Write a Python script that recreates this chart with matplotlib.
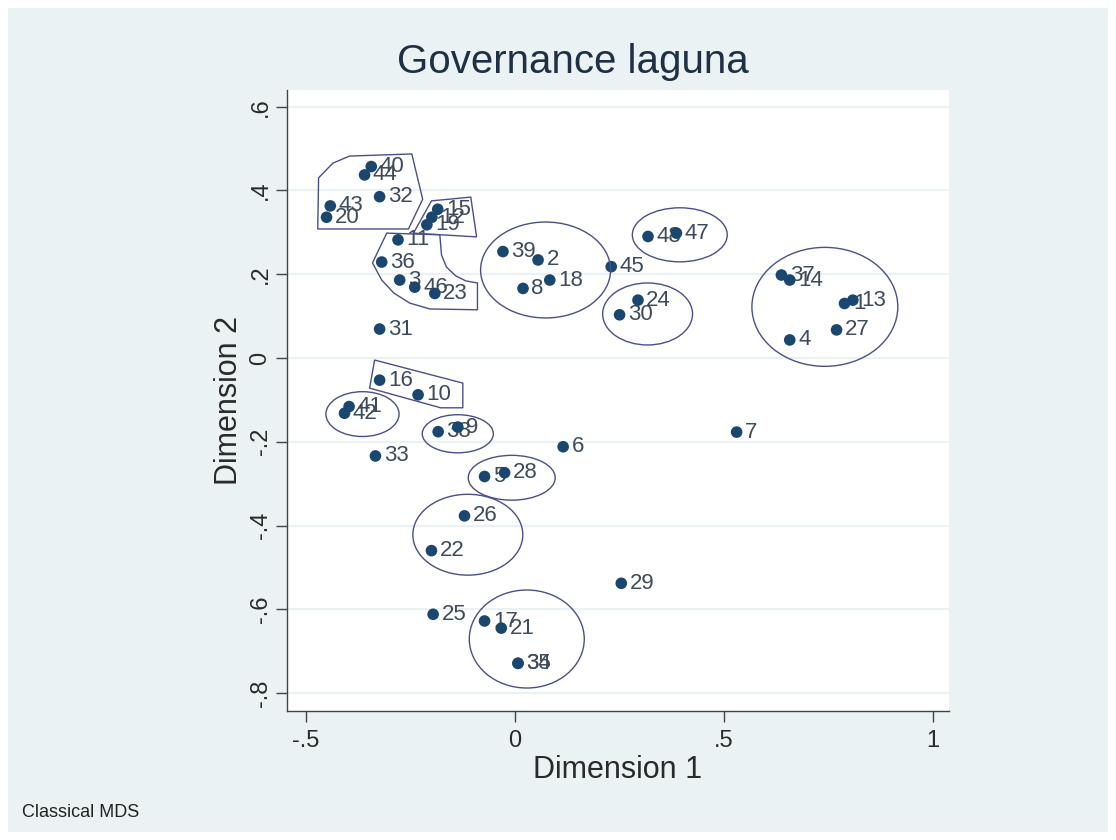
import matplotlib.pyplot as plt
import numpy as np
from matplotlib.patches import Ellipse, Polygon, Rectangle

plt.rcParams['font.family'] = ['Liberation Sans', 'DejaVu Sans']

# MDS coordinates (dimension 1, dimension 2) with their case labels
labels = ['40', '44', '32', '43', '20', '15', '12', '19', '11', '36',
          '3', '46', '23', '39', '2', '18', '8', '31', '45', '48',
          '47', '24', '30', '37', '14', '1', '13', '27', '4', '16',
          '10', '41', '42', '38', '9', '33', '6', '7', '5', '28',
          '26', '22', '29', '25', '17', '21', '34', '35']
dim1 = [-0.343, -0.359, -0.323, -0.441, -0.450, -0.184, -0.198, -0.210, -0.279, -0.318,
        -0.275, -0.239, -0.191, -0.028, 0.056, 0.084, 0.020, -0.323, 0.231, 0.319,
        0.387, 0.295, 0.251, 0.638, 0.658, 0.789, 0.809, 0.770, 0.658, -0.323,
        -0.231, -0.396, -0.407, -0.183, -0.136, -0.333, 0.116, 0.531, -0.072, -0.024,
        -0.120, -0.199, 0.255, -0.195, -0.072, -0.032, 0.008, 0.008]
dim2 = [0.457, 0.437, 0.385, 0.363, 0.336, 0.355, 0.336, 0.318, 0.282, 0.229,
        0.186, 0.169, 0.154, 0.254, 0.234, 0.186, 0.166, 0.069, 0.218, 0.290,
        0.298, 0.138, 0.103, 0.198, 0.186, 0.130, 0.138, 0.067, 0.043, -0.053,
        -0.088, -0.116, -0.132, -0.176, -0.165, -0.234, -0.212, -0.177, -0.283, -0.274,
        -0.377, -0.460, -0.538, -0.612, -0.628, -0.645, -0.729, -0.729]

xticks = [-0.5, 0, 0.5, 1]
xticklabels = ['-.5', '0', '.5', '1']
yticks = [-0.8, -0.6, -0.4, -0.2, 0, 0.2, 0.4, 0.6]
yticklabels = ['-.8', '-.6', '-.4', '-.2', '0', '.2', '.4', '.6']

# hand-drawn group outlines: ellipses (cx, cy, w, h) and polygons
group_ellipses = [(0.074, 0.210, 0.311, 0.229), (0.395, 0.294, 0.227, 0.129),
                  (0.318, 0.105, 0.215, 0.148), (0.742, 0.122, 0.349, 0.284),
                  (-0.364, -0.134, 0.175, 0.107), (-0.136, -0.181, 0.170, 0.091),
                  (-0.007, -0.286, 0.208, 0.107), (-0.112, -0.422, 0.263, 0.193),
                  (0.029, -0.671, 0.275, 0.234)]
group_polygons = [
    [(-0.471, 0.308), (-0.469, 0.430), (-0.435, 0.465), (-0.395, 0.482),
     (-0.246, 0.487), (-0.220, 0.379), (-0.254, 0.308)],
    [(-0.242, 0.298), (-0.199, 0.375), (-0.105, 0.384), (-0.091, 0.289)],
    [(-0.340, 0.227), (-0.306, 0.298), (-0.179, 0.294), (-0.175, 0.246),
     (-0.163, 0.217), (-0.141, 0.196), (-0.117, 0.184), (-0.089, 0.179),
     (-0.089, 0.115), (-0.203, 0.117), (-0.251, 0.131), (-0.289, 0.155),
     (-0.318, 0.186)],
    [(-0.335, -0.005), (-0.124, -0.060), (-0.124, -0.119), (-0.177, -0.119),
     (-0.347, -0.072)],
]

bg = '#eaf2f3'
navy = '#1a476f'
line_col = '#4a4f8c'

fig = plt.figure(figsize=(11.16, 8.4), dpi=100, facecolor='white')
# light graph region inside a thin white frame
fig.patches.append(Rectangle((0.007, 0.009), 0.986, 0.982, transform=fig.transFigure,
                             facecolor=bg, edgecolor='none', zorder=-10))
ax = fig.add_axes([0.257, 0.154, 0.593, 0.739])
ax.set_facecolor('white')

ax.set_xlim(-0.545, 1.038)
ax.set_ylim(-0.842, 0.64)

for yt in yticks:
    ax.axhline(yt, color=bg, lw=1.6, zorder=1)

for x, y, lab in zip(dim1, dim2, labels):
    ax.annotate(lab, (x, y), xytext=(6, 0), textcoords='offset points',
                va='center', ha='left', fontsize=16, color='#3d4b5a', zorder=3)
ax.scatter(dim1, dim2, s=70, color=navy, edgecolors='none', zorder=4)

for cx, cy, w, h in group_ellipses:
    ax.add_patch(Ellipse((cx, cy), w, h, fill=False, edgecolor=line_col, lw=1.0, zorder=5))
for pts in group_polygons:
    ax.add_patch(Polygon(pts, closed=True, fill=False, edgecolor=line_col, lw=1.0, zorder=5))

ax.set_xticks(xticks)
ax.set_xticklabels(xticklabels)
ax.set_yticks(yticks)
ax.set_yticklabels(yticklabels, rotation=90, va='center')
ax.tick_params(axis='both', length=8, width=1, color='#444444', labelsize=17,
               labelcolor='#2a2a2a', direction='out')
ax.tick_params(axis='x', pad=6)
ax.tick_params(axis='y', pad=3)

for side in ['top', 'right']:
    ax.spines[side].set_visible(False)
for side in ['left', 'bottom']:
    ax.spines[side].set_color('#444444')
    ax.spines[side].set_linewidth(1)

ax.set_xlabel('Dimension 1', fontsize=22, color='#2a2a2a', labelpad=2)
ax.set_ylabel('Dimension 2', fontsize=22, color='#2a2a2a', labelpad=4)

fig.text(0.513, 0.926, 'Governance laguna', ha='center', va='center',
         fontsize=29, color='#1f2f44')
fig.text(0.02, 0.033, 'Classical MDS', ha='left', va='center', fontsize=13, color='#222222')

fig.savefig('out.png', dpi=100, facecolor=fig.get_facecolor())
